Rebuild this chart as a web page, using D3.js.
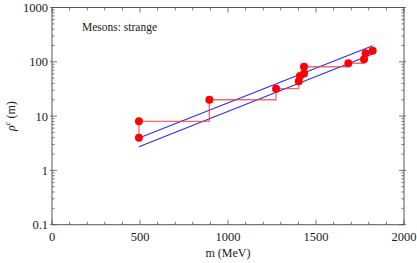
<!DOCTYPE html>
<html>
<head>
    <title>Mesons: strange</title>
    <script src="https://d3js.org/d3.v7.min.js"></script>
    <style>
        body { margin: 0; background: #fff; }
        text { font-family: "Liberation Serif", "DejaVu Serif", serif; }
    </style>
</head>
<body>
    <svg width="417" height="263"></svg>
    <script>
        // masses (MeV) and spectral values
        var masses = [494, 494, 894, 1273, 1402, 1409, 1432, 1432, 1684, 1773, 1782, 1822];
        var rho    = [4, 8, 20, 32, 44, 55, 61, 81, 94, 112, 143, 160];
        // two exponential fits, given by their end points
        var fitM     = [494, 1822];
        var fitUpper = [3.95, 198];
        var fitLower = [2.73, 139];
        var xTicks = [0, 500, 1000, 1500, 2000];
        var yTicks = [0.1, 1, 10, 100, 1000];

        var svg = d3.select("svg");
        var pLeft = 52, pRight = 404, pTop = 7.5, pBottom = 224.7;

        var x = d3.scaleLinear().domain([0, 2000]).range([pLeft, pRight]);
        var y = d3.scaleLog().domain([0.1, 1000]).range([pBottom, pTop]);

        var frame = "#555";
        var ink = "#1a1a1a";

        // minor ticks
        var xMinor = d3.range(0, 2001, 100);
        var yMinor = [];
        for (var e = -1; e < 3; e++) {
            for (var k = 1; k < 10; k++) yMinor.push(k * Math.pow(10, e));
        }
        yMinor.push(1000);

        var g = svg.append("g").attr("stroke", frame).attr("stroke-width", 0.8);

        // bottom + top ticks
        xMinor.forEach(function(v) {
            var len = (v % 500 === 0) ? 5 : 3;
            g.append("line").attr("x1", x(v)).attr("x2", x(v)).attr("y1", pBottom).attr("y2", pBottom - len);
            g.append("line").attr("x1", x(v)).attr("x2", x(v)).attr("y1", pTop).attr("y2", pTop + len);
        });
        // left + right ticks
        yMinor.forEach(function(v) {
            var major = yTicks.indexOf(+v.toPrecision(3)) >= 0;
            var len = major ? 5 : 2.5;
            g.append("line").attr("x1", pLeft).attr("x2", pLeft + len).attr("y1", y(v)).attr("y2", y(v));
            g.append("line").attr("x1", pRight).attr("x2", pRight - len).attr("y1", y(v)).attr("y2", y(v));
            if (major) {
                g.append("line").attr("x1", pLeft).attr("x2", pLeft - 2).attr("y1", y(v)).attr("y2", y(v));
                g.append("line").attr("x1", pRight).attr("x2", pRight + 2).attr("y1", y(v)).attr("y2", y(v));
            }
        });

        svg.append("rect")
            .attr("x", pLeft).attr("y", pTop)
            .attr("width", pRight - pLeft).attr("height", pBottom - pTop)
            .attr("fill", "none").attr("stroke", frame).attr("stroke-width", 1);

        // tick labels
        svg.selectAll(".xl").data(xTicks).enter().append("text")
            .attr("x", function(d) { return x(d); })
            .attr("y", pBottom + 16)
            .attr("text-anchor", "middle")
            .attr("font-size", 12.5)
            .attr("fill", ink)
            .text(function(d) { return d; });

        svg.selectAll(".yl").data(yTicks).enter().append("text")
            .attr("x", pLeft - 4)
            .attr("y", function(d) { return y(d) + 4.5; })
            .attr("text-anchor", "end")
            .attr("font-size", 12.5)
            .attr("fill", ink)
            .text(function(d) { return d; });

        // axis titles
        svg.append("text")
            .attr("x", (pLeft + pRight) / 2).attr("y", 257)
            .attr("text-anchor", "middle").attr("font-size", 12)
            .attr("fill", ink)
            .text("m (MeV)");

        var yl = svg.append("text")
            .attr("transform", "translate(15," + ((pTop + pBottom) / 2) + ") rotate(-90)")
            .attr("text-anchor", "middle").attr("font-size", 12)
            .attr("fill", ink);
        yl.append("tspan").attr("font-style", "italic").text("ρ");
        yl.append("tspan").attr("font-size", 8).attr("dy", -5).attr("font-style", "italic").text("c");
        yl.append("tspan").attr("dy", 5).text(" (m)");

        svg.append("text")
            .attr("x", 82).attr("y", 31)
            .attr("font-size", 11.5)
            .attr("fill", ink)
            .text("Mesons: strange");

        // fitted lines
        [fitUpper, fitLower].forEach(function(f) {
            var pts = fitM.map(function(m, i) { return [m, f[i]]; });
            svg.append("path")
                .datum(pts)
                .attr("fill", "none")
                .attr("stroke", "#2a2aff")
                .attr("stroke-width", 1.1)
                .attr("d", d3.line().x(function(d) { return x(d[0]); }).y(function(d) { return y(d[1]); }));
        });

        // step function
        var data = masses.map(function(m, i) { return { m: m, r: rho[i] }; });
        svg.append("path")
            .datum(data)
            .attr("fill", "none")
            .attr("stroke", "#ff3333")
            .attr("stroke-opacity", 0.75)
            .attr("stroke-width", 1.3)
            .attr("d", d3.line().curve(d3.curveStepAfter)
                .x(function(d) { return x(d.m); })
                .y(function(d) { return y(d.r); }));

        svg.selectAll(".dot").data(data).enter().append("circle")
            .attr("class", "dot")
            .attr("cx", function(d) { return x(d.m); })
            .attr("cy", function(d) { return y(d.r); })
            .attr("r", 4)
            .attr("fill", "#ff0000");
    </script>
</body>
</html>
